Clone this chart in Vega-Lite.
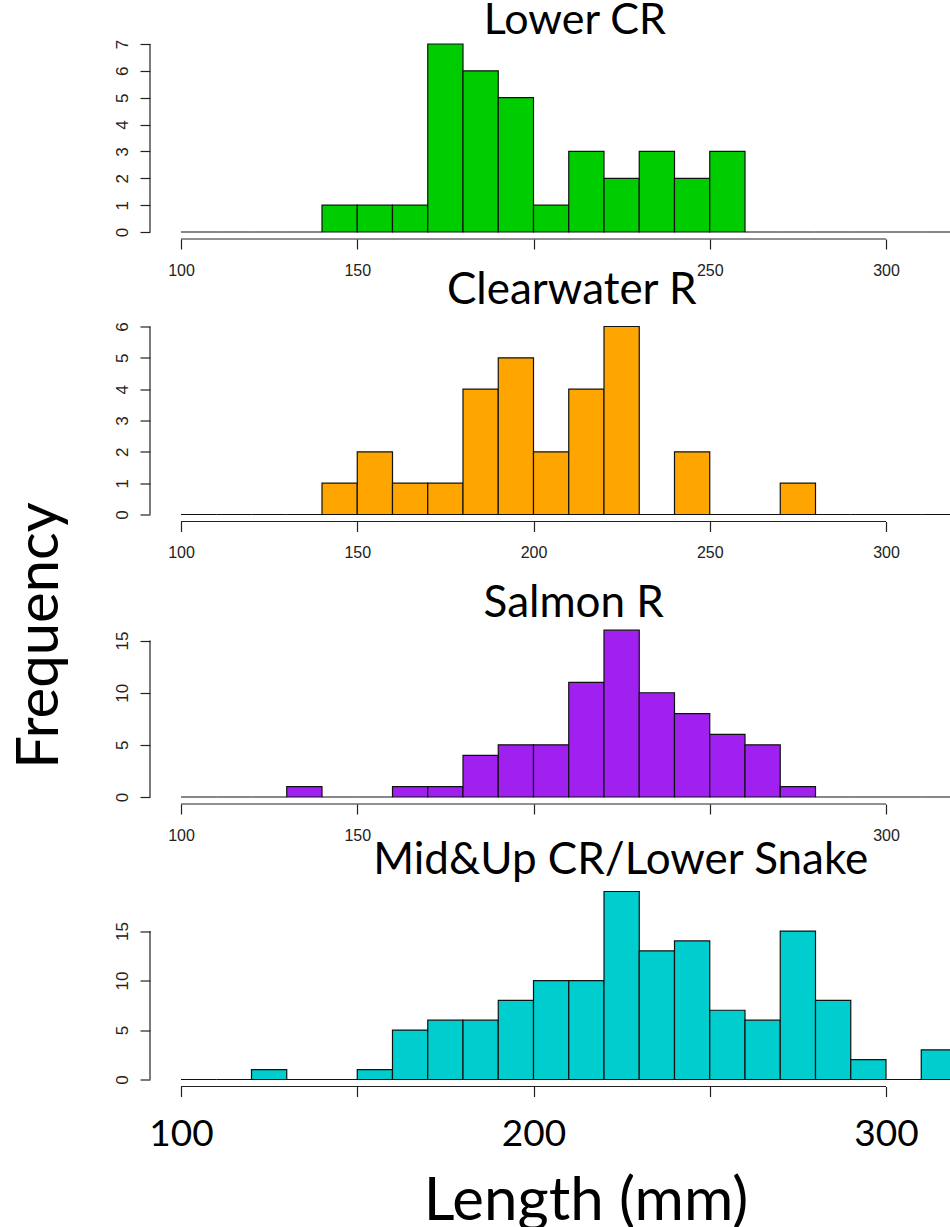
{
  "$schema": "https://vega.github.io/schema/vega-lite/v6.json",
  "padding": {"left": 11, "top": 0, "right": 0, "bottom": 0},
  "bounds": "flush",
  "spacing": 94.5,
  "config": {
    "view": {"stroke": null},
    "axis": {"grid": false, "labelFont": "Liberation Sans", "labelColor": "#222", "tickColor": "#222", "tickWidth": 1.2, "domain": false, "labelOverlap": false, "labelFlush": false},
    "title": {"font": "Lato", "fontWeight": "normal", "color": "#000", "anchor": "middle", "frame": "group"}
  },
  "datasets": {
    "hist": [
      {"region": "Lower CR", "start": 100, "end": 110, "count": 0},
      {"region": "Lower CR", "start": 110, "end": 120, "count": 0},
      {"region": "Lower CR", "start": 120, "end": 130, "count": 0},
      {"region": "Lower CR", "start": 130, "end": 140, "count": 0},
      {"region": "Lower CR", "start": 140, "end": 150, "count": 1},
      {"region": "Lower CR", "start": 150, "end": 160, "count": 1},
      {"region": "Lower CR", "start": 160, "end": 170, "count": 1},
      {"region": "Lower CR", "start": 170, "end": 180, "count": 7},
      {"region": "Lower CR", "start": 180, "end": 190, "count": 6},
      {"region": "Lower CR", "start": 190, "end": 200, "count": 5},
      {"region": "Lower CR", "start": 200, "end": 210, "count": 1},
      {"region": "Lower CR", "start": 210, "end": 220, "count": 3},
      {"region": "Lower CR", "start": 220, "end": 230, "count": 2},
      {"region": "Lower CR", "start": 230, "end": 240, "count": 3},
      {"region": "Lower CR", "start": 240, "end": 250, "count": 2},
      {"region": "Lower CR", "start": 250, "end": 260, "count": 3},
      {"region": "Lower CR", "start": 260, "end": 270, "count": 0},
      {"region": "Lower CR", "start": 270, "end": 280, "count": 0},
      {"region": "Lower CR", "start": 280, "end": 290, "count": 0},
      {"region": "Lower CR", "start": 290, "end": 300, "count": 0},
      {"region": "Lower CR", "start": 300, "end": 310, "count": 0},
      {"region": "Lower CR", "start": 310, "end": 320, "count": 0},
      {"region": "Clearwater R", "start": 100, "end": 110, "count": 0},
      {"region": "Clearwater R", "start": 110, "end": 120, "count": 0},
      {"region": "Clearwater R", "start": 120, "end": 130, "count": 0},
      {"region": "Clearwater R", "start": 130, "end": 140, "count": 0},
      {"region": "Clearwater R", "start": 140, "end": 150, "count": 1},
      {"region": "Clearwater R", "start": 150, "end": 160, "count": 2},
      {"region": "Clearwater R", "start": 160, "end": 170, "count": 1},
      {"region": "Clearwater R", "start": 170, "end": 180, "count": 1},
      {"region": "Clearwater R", "start": 180, "end": 190, "count": 4},
      {"region": "Clearwater R", "start": 190, "end": 200, "count": 5},
      {"region": "Clearwater R", "start": 200, "end": 210, "count": 2},
      {"region": "Clearwater R", "start": 210, "end": 220, "count": 4},
      {"region": "Clearwater R", "start": 220, "end": 230, "count": 6},
      {"region": "Clearwater R", "start": 230, "end": 240, "count": 0},
      {"region": "Clearwater R", "start": 240, "end": 250, "count": 2},
      {"region": "Clearwater R", "start": 250, "end": 260, "count": 0},
      {"region": "Clearwater R", "start": 260, "end": 270, "count": 0},
      {"region": "Clearwater R", "start": 270, "end": 280, "count": 1},
      {"region": "Clearwater R", "start": 280, "end": 290, "count": 0},
      {"region": "Clearwater R", "start": 290, "end": 300, "count": 0},
      {"region": "Clearwater R", "start": 300, "end": 310, "count": 0},
      {"region": "Clearwater R", "start": 310, "end": 320, "count": 0},
      {"region": "Salmon R", "start": 100, "end": 110, "count": 0},
      {"region": "Salmon R", "start": 110, "end": 120, "count": 0},
      {"region": "Salmon R", "start": 120, "end": 130, "count": 0},
      {"region": "Salmon R", "start": 130, "end": 140, "count": 1},
      {"region": "Salmon R", "start": 140, "end": 150, "count": 0},
      {"region": "Salmon R", "start": 150, "end": 160, "count": 0},
      {"region": "Salmon R", "start": 160, "end": 170, "count": 1},
      {"region": "Salmon R", "start": 170, "end": 180, "count": 1},
      {"region": "Salmon R", "start": 180, "end": 190, "count": 4},
      {"region": "Salmon R", "start": 190, "end": 200, "count": 5},
      {"region": "Salmon R", "start": 200, "end": 210, "count": 5},
      {"region": "Salmon R", "start": 210, "end": 220, "count": 11},
      {"region": "Salmon R", "start": 220, "end": 230, "count": 16},
      {"region": "Salmon R", "start": 230, "end": 240, "count": 10},
      {"region": "Salmon R", "start": 240, "end": 250, "count": 8},
      {"region": "Salmon R", "start": 250, "end": 260, "count": 6},
      {"region": "Salmon R", "start": 260, "end": 270, "count": 5},
      {"region": "Salmon R", "start": 270, "end": 280, "count": 1},
      {"region": "Salmon R", "start": 280, "end": 290, "count": 0},
      {"region": "Salmon R", "start": 290, "end": 300, "count": 0},
      {"region": "Salmon R", "start": 300, "end": 310, "count": 0},
      {"region": "Salmon R", "start": 310, "end": 320, "count": 0},
      {"region": "Mid&Up CR/Lower Snake", "start": 100, "end": 110, "count": 0},
      {"region": "Mid&Up CR/Lower Snake", "start": 110, "end": 120, "count": 0},
      {"region": "Mid&Up CR/Lower Snake", "start": 120, "end": 130, "count": 1},
      {"region": "Mid&Up CR/Lower Snake", "start": 130, "end": 140, "count": 0},
      {"region": "Mid&Up CR/Lower Snake", "start": 140, "end": 150, "count": 0},
      {"region": "Mid&Up CR/Lower Snake", "start": 150, "end": 160, "count": 1},
      {"region": "Mid&Up CR/Lower Snake", "start": 160, "end": 170, "count": 5},
      {"region": "Mid&Up CR/Lower Snake", "start": 170, "end": 180, "count": 6},
      {"region": "Mid&Up CR/Lower Snake", "start": 180, "end": 190, "count": 6},
      {"region": "Mid&Up CR/Lower Snake", "start": 190, "end": 200, "count": 8},
      {"region": "Mid&Up CR/Lower Snake", "start": 200, "end": 210, "count": 10},
      {"region": "Mid&Up CR/Lower Snake", "start": 210, "end": 220, "count": 10},
      {"region": "Mid&Up CR/Lower Snake", "start": 220, "end": 230, "count": 19},
      {"region": "Mid&Up CR/Lower Snake", "start": 230, "end": 240, "count": 13},
      {"region": "Mid&Up CR/Lower Snake", "start": 240, "end": 250, "count": 14},
      {"region": "Mid&Up CR/Lower Snake", "start": 250, "end": 260, "count": 7},
      {"region": "Mid&Up CR/Lower Snake", "start": 260, "end": 270, "count": 6},
      {"region": "Mid&Up CR/Lower Snake", "start": 270, "end": 280, "count": 15},
      {"region": "Mid&Up CR/Lower Snake", "start": 280, "end": 290, "count": 8},
      {"region": "Mid&Up CR/Lower Snake", "start": 290, "end": 300, "count": 2},
      {"region": "Mid&Up CR/Lower Snake", "start": 300, "end": 310, "count": 0},
      {"region": "Mid&Up CR/Lower Snake", "start": 310, "end": 320, "count": 3}
    ]
  },
  "vconcat": [
    {
      "width": 775.5, "height": 188,
      "data": {"name": "hist"},
      "title": {"text": "Lower CR", "fontSize": 43, "offset": -4.1, "dx": 6},
      "layer": [
        {
          "transform": [{"filter": "datum.region === 'Lower CR'"}],
          "mark": {"type": "bar", "fill": "#00CD00", "stroke": "#111", "strokeWidth": 1.2},
          "encoding": {
            "x": {"field": "start", "type": "quantitative", "scale": {"domain": [100, 320], "nice": false, "zero": false},
                  "axis": {"values": [100, 150, 200, 250, 300], "offset": 7, "tickSize": 10, "labelFontSize": 16, "labelPadding": 13, "title": null,
                           "labelExpr": "datum.value === 200 ? '' : datum.label"}},
            "x2": {"field": "end"},
            "y": {"field": "count", "type": "quantitative", "scale": {"domain": [0, 7], "nice": false},
                  "axis": {"values": [0, 1, 2, 3, 4, 5, 6, 7], "labelOverlap": false, "offset": 31, "tickSize": 10, "labelFontSize": 17, "labelAngle": -90, "labelAlign": "center", "labelBaseline": "bottom", "labelPadding": 9, "title": null}},
            "y2": {"datum": 0}
          }
        },
        {
          "data": {"values": [{}]},
          "mark": {"type": "rule", "color": "#222", "strokeWidth": 1.2, "xOffset": -31},
          "encoding": {"x": {"datum": 100}, "y": {"datum": 0, "type": "quantitative", "axis": {"values": [0, 1, 2, 3, 4, 5, 6, 7], "labelOverlap": false, "offset": 31, "tickSize": 10, "labelFontSize": 17, "labelAngle": -90, "labelAlign": "center", "labelBaseline": "bottom", "labelPadding": 9, "title": null}}, "y2": {"datum": 7}}
        },
        {
          "data": {"values": [{}]},
          "mark": {"type": "rule", "color": "#222", "strokeWidth": 1.2, "yOffset": 7},
          "encoding": {"x": {"datum": 100}, "x2": {"datum": 300}, "y": {"datum": 0, "type": "quantitative", "axis": {"values": [0, 1, 2, 3, 4, 5, 6, 7], "labelOverlap": false, "offset": 31, "tickSize": 10, "labelFontSize": 17, "labelAngle": -90, "labelAlign": "center", "labelBaseline": "bottom", "labelPadding": 9, "title": null}}}
        }
      ]
    },
    {
      "width": 775.5, "height": 188,
      "data": {"name": "hist"},
      "title": {"text": "Clearwater R", "fontSize": 44, "offset": 8.7, "dx": 3},
      "layer": [
        {
          "transform": [{"filter": "datum.region === 'Clearwater R'"}],
          "mark": {"type": "bar", "fill": "#FFA500", "stroke": "#111", "strokeWidth": 1.2},
          "encoding": {
            "x": {"field": "start", "type": "quantitative", "scale": {"domain": [100, 320], "nice": false, "zero": false},
                  "axis": {"values": [100, 150, 200, 250, 300], "offset": 7, "tickSize": 10, "labelFontSize": 16, "labelPadding": 13, "title": null}},
            "x2": {"field": "end"},
            "y": {"field": "count", "type": "quantitative", "scale": {"domain": [0, 6], "nice": false},
                  "axis": {"values": [0, 1, 2, 3, 4, 5, 6], "labelOverlap": false, "offset": 31, "tickSize": 10, "labelFontSize": 17, "labelAngle": -90, "labelAlign": "center", "labelBaseline": "bottom", "labelPadding": 9,
                           "title": "Frequency", "titleFont": "Lato", "titleFontSize": 58, "titleFontWeight": "normal", "titleColor": "#000",
                           "titleAngle": -90, "titleAlign": "center", "titleBaseline": "middle", "titleX": -109.5, "titleY": 308.5}},
            "y2": {"datum": 0}
          }
        },
        {
          "data": {"values": [{}]},
          "mark": {"type": "rule", "color": "#222", "strokeWidth": 1.2, "xOffset": -31},
          "encoding": {"x": {"datum": 100},
                       "y": {"datum": 0, "type": "quantitative", "axis": {"values": [0, 1, 2, 3, 4, 5, 6], "labelOverlap": false, "offset": 31, "tickSize": 10, "labelFontSize": 17, "labelAngle": -90, "labelAlign": "center", "labelBaseline": "bottom", "labelPadding": 9,
                           "title": "Frequency", "titleFont": "Lato", "titleFontSize": 58, "titleFontWeight": "normal", "titleColor": "#000",
                           "titleAngle": -90, "titleAlign": "center", "titleBaseline": "middle", "titleX": -109.5, "titleY": 308.5}},
                       "y2": {"datum": 6}}
        },
        {
          "data": {"values": [{}]},
          "mark": {"type": "rule", "color": "#222", "strokeWidth": 1.2, "yOffset": 7},
          "encoding": {"x": {"datum": 100}, "x2": {"datum": 300},
                       "y": {"datum": 0, "type": "quantitative", "axis": {"values": [0, 1, 2, 3, 4, 5, 6], "labelOverlap": false, "offset": 31, "tickSize": 10, "labelFontSize": 17, "labelAngle": -90, "labelAlign": "center", "labelBaseline": "bottom", "labelPadding": 9,
                           "title": "Frequency", "titleFont": "Lato", "titleFontSize": 58, "titleFontWeight": "normal", "titleColor": "#000",
                           "titleAngle": -90, "titleAlign": "center", "titleBaseline": "middle", "titleX": -109.5, "titleY": 308.5}}}
        }
      ]
    },
    {
      "width": 775.5, "height": 188,
      "data": {"name": "hist"},
      "title": {"text": "Salmon R", "fontSize": 44, "offset": 0, "dy": 17, "dx": 5},
      "layer": [
        {
          "transform": [{"filter": "datum.region === 'Salmon R'"}],
          "mark": {"type": "bar", "fill": "#A020F0", "stroke": "#111", "strokeWidth": 1.2},
          "encoding": {
            "x": {"field": "start", "type": "quantitative", "scale": {"domain": [100, 320], "nice": false, "zero": false},
                  "axis": {"values": [100, 150, 200, 250, 300], "offset": 7, "tickSize": 10, "labelFontSize": 16, "labelPadding": 13, "title": null,
                           "labelExpr": "datum.value === 200 || datum.value === 250 ? '' : datum.label"}},
            "x2": {"field": "end"},
            "y": {"field": "count", "type": "quantitative", "scale": {"domain": [0, 18.03], "nice": false},
                  "axis": {"values": [0, 5, 10, 15], "labelOverlap": false, "offset": 31, "tickSize": 10, "labelFontSize": 17, "labelAngle": -90, "labelAlign": "center", "labelBaseline": "bottom", "labelPadding": 9, "title": null}},
            "y2": {"datum": 0}
          }
        },
        {
          "data": {"values": [{}]},
          "mark": {"type": "rule", "color": "#222", "strokeWidth": 1.2, "xOffset": -31},
          "encoding": {"x": {"datum": 100}, "y": {"datum": 0, "type": "quantitative", "axis": {"values": [0, 5, 10, 15], "labelOverlap": false, "offset": 31, "tickSize": 10, "labelFontSize": 17, "labelAngle": -90, "labelAlign": "center", "labelBaseline": "bottom", "labelPadding": 9, "title": null}}, "y2": {"datum": 15}}
        },
        {
          "data": {"values": [{}]},
          "mark": {"type": "rule", "color": "#222", "strokeWidth": 1.2, "yOffset": 7},
          "encoding": {"x": {"datum": 100}, "x2": {"datum": 300}, "y": {"datum": 0, "type": "quantitative", "axis": {"values": [0, 5, 10, 15], "labelOverlap": false, "offset": 31, "tickSize": 10, "labelFontSize": 17, "labelAngle": -90, "labelAlign": "center", "labelBaseline": "bottom", "labelPadding": 9, "title": null}}}
        }
      ]
    },
    {
      "width": 775.5, "height": 188,
      "data": {"name": "hist"},
      "title": {"text": "Mid&Up CR/Lower Snake", "fontSize": 44, "offset": 7.5, "dx": 52},
      "layer": [
        {
          "transform": [{"filter": "datum.region === 'Mid&Up CR/Lower Snake'"}],
          "mark": {"type": "bar", "fill": "#00CDCD", "stroke": "#111", "strokeWidth": 1.2},
          "encoding": {
            "x": {"field": "start", "type": "quantitative", "scale": {"domain": [100, 320], "nice": false, "zero": false},
                  "axis": {"values": [100, 150, 200, 250, 300], "offset": 7, "tickSize": 10, "labelFont": "Lato", "labelFontSize": 37, "labelColor": "#000", "labelPadding": 20,
                           "labelExpr": "datum.value % 100 === 0 ? datum.label : ''",
                           "title": "Length (mm)", "titleFont": "Lato", "titleFontSize": 60, "titleFontWeight": "normal", "titleColor": "#000",
                           "titleAlign": "center", "titleBaseline": "alphabetic", "titleX": 404.5, "titleY": 133}},
            "x2": {"field": "end"},
            "y": {"field": "count", "type": "quantitative", "scale": {"domain": [0, 19], "nice": false},
                  "axis": {"values": [0, 5, 10, 15], "labelOverlap": false, "offset": 31, "tickSize": 10, "labelFontSize": 17, "labelAngle": -90, "labelAlign": "center", "labelBaseline": "bottom", "labelPadding": 9, "title": null}},
            "y2": {"datum": 0}
          }
        },
        {
          "data": {"values": [{}]},
          "mark": {"type": "rule", "color": "#222", "strokeWidth": 1.2, "xOffset": -31},
          "encoding": {"x": {"datum": 100}, "y": {"datum": 0, "type": "quantitative", "axis": {"values": [0, 5, 10, 15], "labelOverlap": false, "offset": 31, "tickSize": 10, "labelFontSize": 17, "labelAngle": -90, "labelAlign": "center", "labelBaseline": "bottom", "labelPadding": 9, "title": null}}, "y2": {"datum": 15}}
        },
        {
          "data": {"values": [{}]},
          "mark": {"type": "rule", "color": "#222", "strokeWidth": 1.2, "yOffset": 7},
          "encoding": {"x": {"datum": 100}, "x2": {"datum": 300}, "y": {"datum": 0, "type": "quantitative", "axis": {"values": [0, 5, 10, 15], "labelOverlap": false, "offset": 31, "tickSize": 10, "labelFontSize": 17, "labelAngle": -90, "labelAlign": "center", "labelBaseline": "bottom", "labelPadding": 9, "title": null}}}
        }
      ]
    }
  ]
}
